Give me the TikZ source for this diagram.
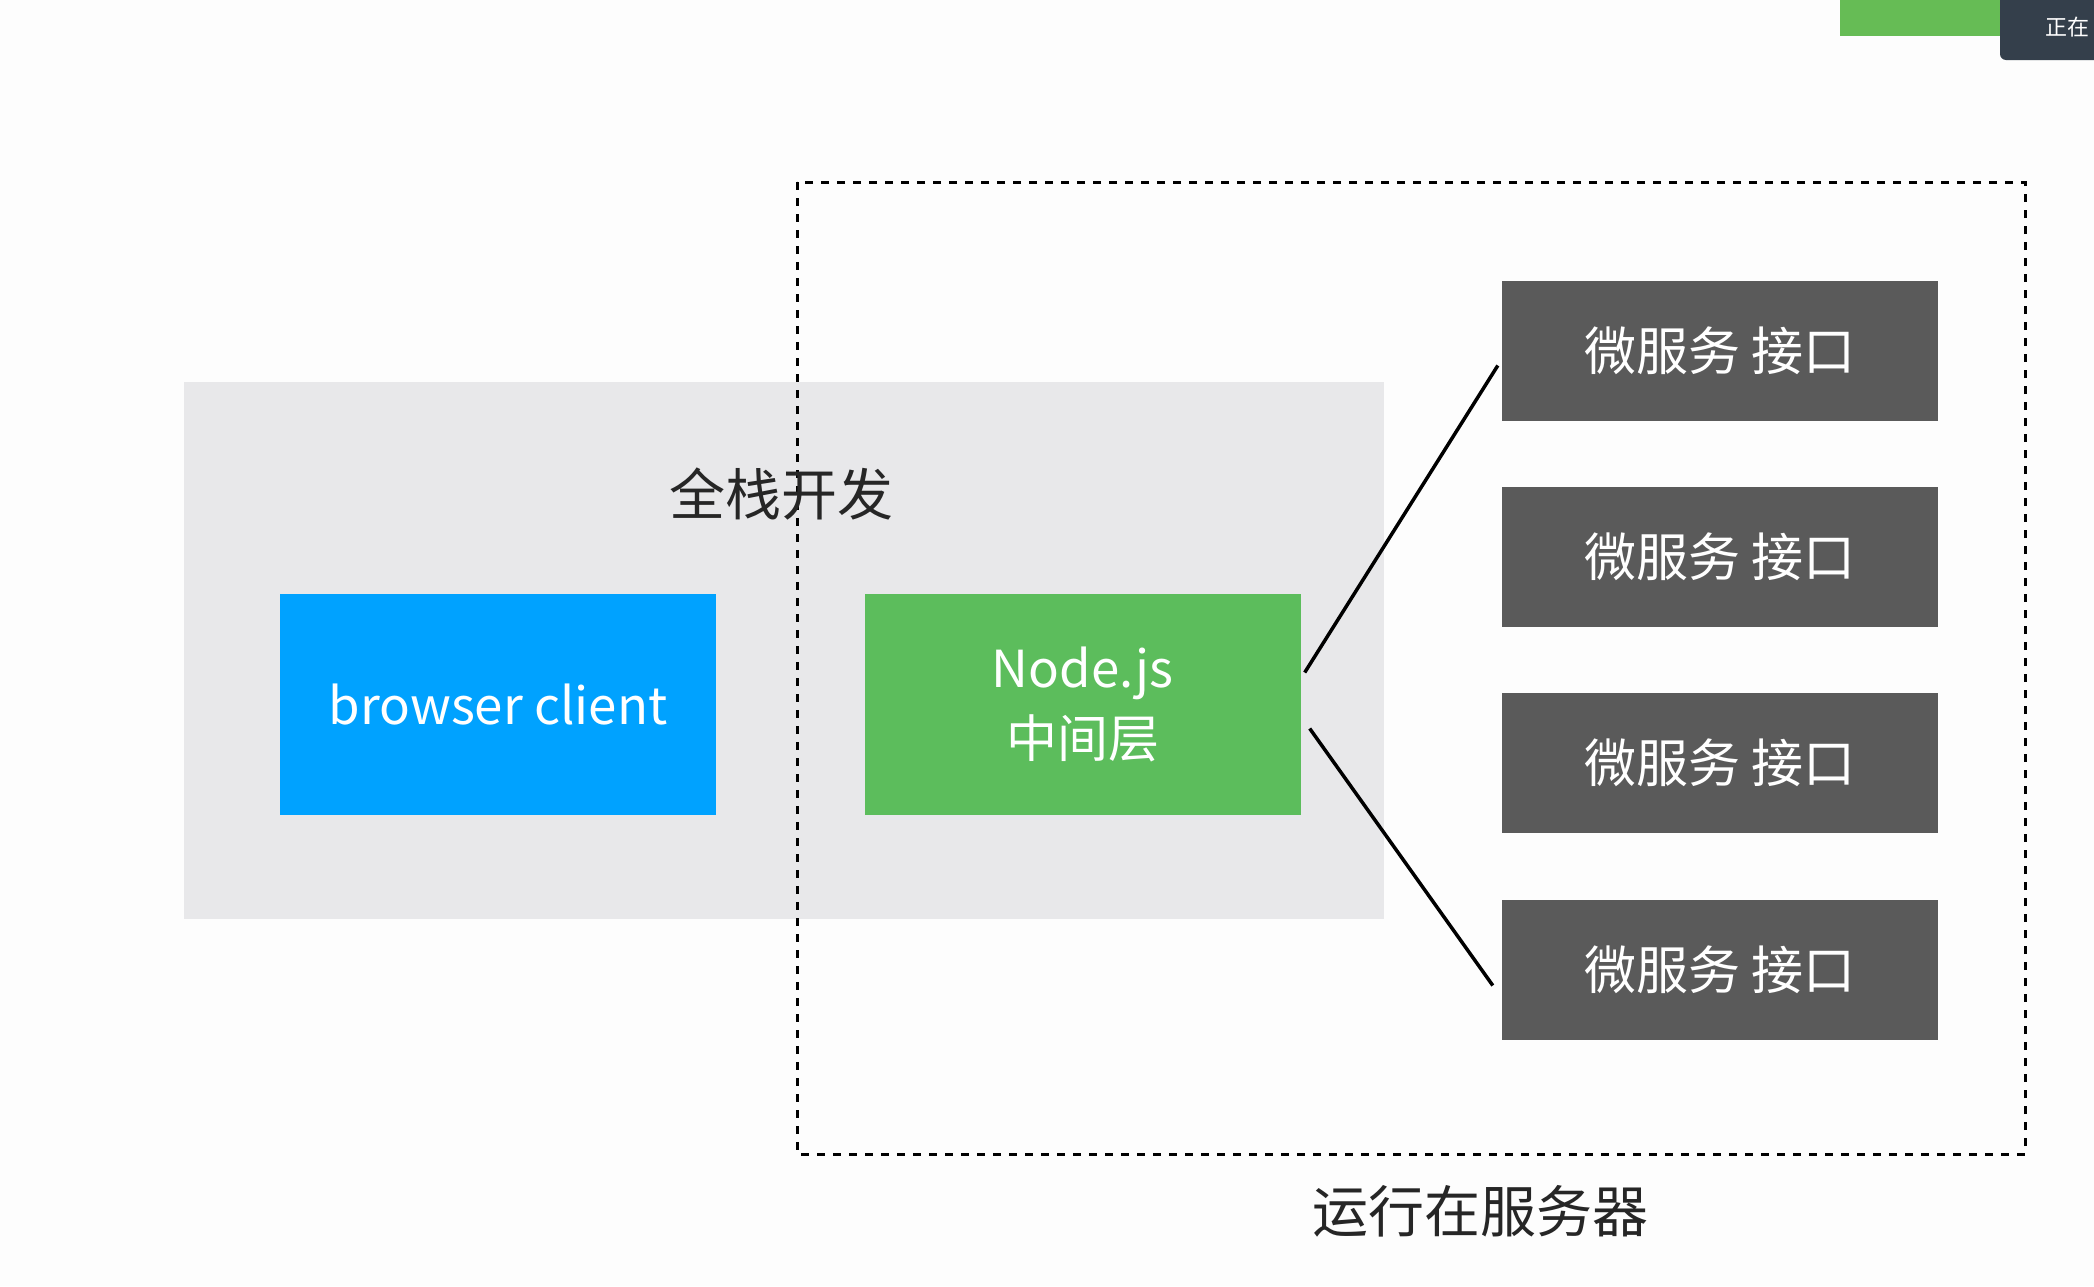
\documentclass[tikz,border=0pt]{standalone}
\usepackage{fontspec}
\setmainfont{Noto Sans CJK SC}
\usetikzlibrary{calc}
\definecolor{bgw}{HTML}{FDFDFD}
\definecolor{grayarea}{HTML}{E8E8EA}
\definecolor{bluebox}{HTML}{00A2FF}
\definecolor{greenbox}{HTML}{5CBD5C}
\definecolor{darkbox}{HTML}{5A5A5A}
\definecolor{tipdark}{HTML}{343F4B}
\definecolor{btngreen}{HTML}{66BC55}
\tikzset{
  x=1pt,y=-1pt,
  box/.style={draw=none,minimum width=436pt,minimum height=221pt,inner sep=0pt,text=white,align=center},
  svc/.style={fill=darkbox,draw=none,minimum width=436pt,minimum height=140pt,inner sep=0pt,text=white,
    font=\fontsize{52}{58}\selectfont},
  link/.style={line width=3.5pt,black},
  cjklabel/.style={text=black!85,inner sep=0pt,font=\fontsize{56}{62}\selectfont}
}
\begin{document}
\begin{tikzpicture}
\useasboundingbox[fill=bgw] (0,0) rectangle (2094,1286);
% screenshot UI remnants
\fill[btngreen] (1840,0) rectangle (2003,36);
\fill[tipdark,rounded corners=6pt] (2000,-10) rectangle (2104,60);
\node[anchor=west,text=white,inner sep=0pt,font=\fontsize{22}{24}\selectfont] (tip) at (2045,27) {正在};
% gray area
\node[fill=grayarea,minimum width=1200pt,minimum height=537pt,inner sep=0pt,anchor=north west] (area) at (184,382) {};
% dashed server region
\draw[line width=3pt,dash pattern=on 8pt off 8pt] (797,182) rectangle (2025,1154);
\node[cjklabel] (fs) at (781,494) {全栈开发};
\node[cjklabel] (srv) at (1480,1211) {运行在服务器};
% boxes
\node[box,fill=bluebox,font=\fontsize{51}{56}\selectfont] (b) at (498,704.5) {browser client};
\node[box,fill=greenbox,font=\fontsize{51}{70}\selectfont] (g) at (1082.5,704.5) {Node.js\\中间层};
\node[svc] (d1) at (1720,350.5) {微服务 接口};
\node[svc] (d2) at (1720,556.5) {微服务 接口};
\node[svc] (d3) at (1720,763) {微服务 接口};
\node[svc] (d4) at (1720,969.5) {微服务 接口};
% connectors
\draw[link] ([xshift=4pt,yshift=32pt]g.east) -- ([xshift=-4pt,yshift=-15pt]d1.west);
\draw[link] ([xshift=9pt,yshift=-24pt]g.east) -- ([xshift=-9pt,yshift=-16pt]d4.west);
\end{tikzpicture}
\end{document}
